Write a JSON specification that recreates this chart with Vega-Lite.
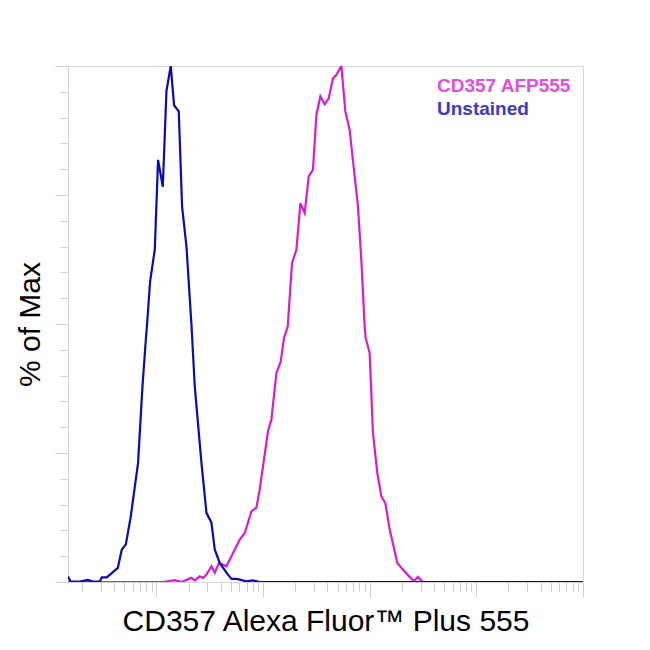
{
  "$schema": "https://vega.github.io/schema/vega-lite/v6.json",
  "description": "CD357 Alexa Fluor Plus 555 histogram overlay",
  "width": 515,
  "height": 516,
  "autosize": "none",
  "padding": {"left": 68, "top": 66, "right": 67, "bottom": 68},
  "background": "white",
  "config": {
    "view": {"stroke": "#d9d9d9", "strokeWidth": 1},
    "font": "Liberation Sans"
  },
  "data": {
    "values": [
      {"sample": "CD357 AFP555", "intensity": 14.8, "pct": 0},
      {"sample": "CD357 AFP555", "intensity": 115.3, "pct": 0},
      {"sample": "CD357 AFP555", "intensity": 148.4, "pct": 0.35},
      {"sample": "CD357 AFP555", "intensity": 171.5, "pct": 0},
      {"sample": "CD357 AFP555", "intensity": 212.8, "pct": 0.8},
      {"sample": "CD357 AFP555", "intensity": 228.6, "pct": 0.3},
      {"sample": "CD357 AFP555", "intensity": 254.6, "pct": 1.1},
      {"sample": "CD357 AFP555", "intensity": 273.4, "pct": 0.8},
      {"sample": "CD357 AFP555", "intensity": 294.2, "pct": 1.45},
      {"sample": "CD357 AFP555", "intensity": 327.7, "pct": 3.06},
      {"sample": "CD357 AFP555", "intensity": 351.9, "pct": 1.8},
      {"sample": "CD357 AFP555", "intensity": 386.2, "pct": 3.7},
      {"sample": "CD357 AFP555", "intensity": 452.9, "pct": 3.06},
      {"sample": "CD357 AFP555", "intensity": 504.7, "pct": 5.0},
      {"sample": "CD357 AFP555", "intensity": 603.6, "pct": 8.2},
      {"sample": "CD357 AFP555", "intensity": 672.5, "pct": 9.5},
      {"sample": "CD357 AFP555", "intensity": 777, "pct": 13.7},
      {"sample": "CD357 AFP555", "intensity": 865.5, "pct": 14.4},
      {"sample": "CD357 AFP555", "intensity": 929, "pct": 17.9},
      {"sample": "CD357 AFP555", "intensity": 998, "pct": 22.4},
      {"sample": "CD357 AFP555", "intensity": 1111, "pct": 29.2},
      {"sample": "CD357 AFP555", "intensity": 1196, "pct": 31.5},
      {"sample": "CD357 AFP555", "intensity": 1332, "pct": 40.5},
      {"sample": "CD357 AFP555", "intensity": 1462, "pct": 42.7},
      {"sample": "CD357 AFP555", "intensity": 1570, "pct": 47.3},
      {"sample": "CD357 AFP555", "intensity": 1701, "pct": 49.5},
      {"sample": "CD357 AFP555", "intensity": 1866, "pct": 61.8},
      {"sample": "CD357 AFP555", "intensity": 2052, "pct": 64.4},
      {"sample": "CD357 AFP555", "intensity": 2237, "pct": 73.4},
      {"sample": "CD357 AFP555", "intensity": 2454, "pct": 71.5},
      {"sample": "CD357 AFP555", "intensity": 2676, "pct": 78.6},
      {"sample": "CD357 AFP555", "intensity": 2935, "pct": 79.9},
      {"sample": "CD357 AFP555", "intensity": 3159, "pct": 90.5},
      {"sample": "CD357 AFP555", "intensity": 3444, "pct": 94.1},
      {"sample": "CD357 AFP555", "intensity": 3778, "pct": 92.6},
      {"sample": "CD357 AFP555", "intensity": 4120, "pct": 93.7},
      {"sample": "CD357 AFP555", "intensity": 4520, "pct": 97.6},
      {"sample": "CD357 AFP555", "intensity": 4864, "pct": 98.3},
      {"sample": "CD357 AFP555", "intensity": 5418, "pct": 100},
      {"sample": "CD357 AFP555", "intensity": 5905, "pct": 91.2},
      {"sample": "CD357 AFP555", "intensity": 6479, "pct": 87.6},
      {"sample": "CD357 AFP555", "intensity": 7111, "pct": 79.9},
      {"sample": "CD357 AFP555", "intensity": 7753, "pct": 72.8},
      {"sample": "CD357 AFP555", "intensity": 8341, "pct": 62.4},
      {"sample": "CD357 AFP555", "intensity": 8960, "pct": 49.5},
      {"sample": "CD357 AFP555", "intensity": 9155, "pct": 47.3},
      {"sample": "CD357 AFP555", "intensity": 9977, "pct": 44.4},
      {"sample": "CD357 AFP555", "intensity": 10715, "pct": 28.9},
      {"sample": "CD357 AFP555", "intensity": 11783, "pct": 21.1},
      {"sample": "CD357 AFP555", "intensity": 12846, "pct": 16.6},
      {"sample": "CD357 AFP555", "intensity": 14004, "pct": 15.3},
      {"sample": "CD357 AFP555", "intensity": 15369, "pct": 10.2},
      {"sample": "CD357 AFP555", "intensity": 18143, "pct": 3.7},
      {"sample": "CD357 AFP555", "intensity": 19783, "pct": 2.75},
      {"sample": "CD357 AFP555", "intensity": 22513, "pct": 1.45},
      {"sample": "CD357 AFP555", "intensity": 25968, "pct": 0.15},
      {"sample": "CD357 AFP555", "intensity": 28291, "pct": 1.0},
      {"sample": "CD357 AFP555", "intensity": 31514, "pct": 0},
      {"sample": "CD357 AFP555", "intensity": 1000000, "pct": 0},
      {"sample": "Unstained", "intensity": 14.8, "pct": 1.06},
      {"sample": "Unstained", "intensity": 15.7, "pct": 0.1},
      {"sample": "Unstained", "intensity": 19.1, "pct": 0.1},
      {"sample": "Unstained", "intensity": 22.7, "pct": 0.4},
      {"sample": "Unstained", "intensity": 25.3, "pct": 0.1},
      {"sample": "Unstained", "intensity": 29.4, "pct": 0.1},
      {"sample": "Unstained", "intensity": 30.7, "pct": 0.9},
      {"sample": "Unstained", "intensity": 34.2, "pct": 0.9},
      {"sample": "Unstained", "intensity": 43.4, "pct": 2.75},
      {"sample": "Unstained", "intensity": 47.3, "pct": 6.3},
      {"sample": "Unstained", "intensity": 51.6, "pct": 7.3},
      {"sample": "Unstained", "intensity": 57.4, "pct": 12.7},
      {"sample": "Unstained", "intensity": 67.2, "pct": 23.1},
      {"sample": "Unstained", "intensity": 73.9, "pct": 37.9},
      {"sample": "Unstained", "intensity": 79.4, "pct": 46.9},
      {"sample": "Unstained", "intensity": 81.6, "pct": 49.9},
      {"sample": "Unstained", "intensity": 87.1, "pct": 58.2},
      {"sample": "Unstained", "intensity": 96.4, "pct": 64.4},
      {"sample": "Unstained", "intensity": 103.5, "pct": 81.8},
      {"sample": "Unstained", "intensity": 114.6, "pct": 76.6},
      {"sample": "Unstained", "intensity": 124.1, "pct": 95.2},
      {"sample": "Unstained", "intensity": 136.1, "pct": 100},
      {"sample": "Unstained", "intensity": 146.2, "pct": 92.4},
      {"sample": "Unstained", "intensity": 161.8, "pct": 91.2},
      {"sample": "Unstained", "intensity": 173.8, "pct": 72.8},
      {"sample": "Unstained", "intensity": 191.1, "pct": 65.0},
      {"sample": "Unstained", "intensity": 212.8, "pct": 49.9},
      {"sample": "Unstained", "intensity": 228.6, "pct": 37.9},
      {"sample": "Unstained", "intensity": 264.1, "pct": 23.1},
      {"sample": "Unstained", "intensity": 294.2, "pct": 13.4},
      {"sample": "Unstained", "intensity": 327.7, "pct": 11.5},
      {"sample": "Unstained", "intensity": 351.9, "pct": 6.3},
      {"sample": "Unstained", "intensity": 392, "pct": 3.7},
      {"sample": "Unstained", "intensity": 452.9, "pct": 1.8},
      {"sample": "Unstained", "intensity": 504.7, "pct": 0.6},
      {"sample": "Unstained", "intensity": 562.1, "pct": 0.6},
      {"sample": "Unstained", "intensity": 616.6, "pct": 0.4},
      {"sample": "Unstained", "intensity": 697.5, "pct": 0.15},
      {"sample": "Unstained", "intensity": 804, "pct": 0.3},
      {"sample": "Unstained", "intensity": 929, "pct": 0},
      {"sample": "Unstained", "intensity": 1000000, "pct": 0}
    ]
  },
  "mark": {"type": "line", "strokeWidth": 2.2, "clip": true},
  "encoding": {
    "x": {
      "field": "intensity",
      "type": "quantitative",
      "scale": {"type": "log", "domain": [14.8, 1000000], "nice": false},
      "axis": {
        "title": "CD357 Alexa Fluor™ Plus 555",
        "titleFont": "Liberation Sans",
        "titleFontSize": 30,
        "titleFontWeight": "normal",
        "titleColor": "#000000",
        "titlePadding": 9,
        "labels": false,
        "grid": false,
        "values": [20, 30, 40, 50, 60, 70, 80, 90, 100, 200, 300, 400, 500, 600, 700, 800, 900, 1000, 2000, 3000, 4000, 5000, 6000, 7000, 8000, 9000, 10000, 20000, 30000, 40000, 50000, 60000, 70000, 80000, 90000, 100000, 200000, 300000, 400000, 500000, 600000, 700000, 800000, 900000, 1000000],
        "tickSize": {"condition": {"test": "abs(log(datum.value) / LN10 - round(log(datum.value) / LN10)) < 0.001", "value": 15}, "value": 9},
        "tickColor": "#cfcfcf",
        "domainColor": "#d4d4d4"
      }
    },
    "y": {
      "field": "pct",
      "type": "quantitative",
      "scale": {"domain": [0, 100], "nice": false},
      "axis": {
        "title": "% of Max",
        "titleFont": "Liberation Sans",
        "titleFontSize": 30,
        "titleFontWeight": "normal",
        "titleColor": "#000000",
        "titlePadding": 9,
        "labels": false,
        "grid": false,
        "values": [0, 5, 10, 15, 20, 25, 30, 35, 40, 45, 50, 55, 60, 65, 70, 75, 80, 85, 90, 95, 100],
        "tickSize": {"condition": {"test": "datum.value % 25 == 0", "value": 13}, "value": 8},
        "tickColor": "#cfcfcf",
        "domainColor": "#d4d4d4"
      }
    },
    "color": {
      "field": "sample",
      "type": "nominal",
      "scale": {"domain": ["CD357 AFP555", "Unstained"], "range": ["#d91ad9", "#0a0ab8"]},
      "legend": {
        "title": null,
        "orient": "none",
        "legendX": 350,
        "legendY": 10,
        "symbolSize": 0,
        "symbolOpacity": 0,
        "symbolStrokeWidth": 0,
        "labelOffset": 0,
        "labelFont": "Liberation Sans",
        "labelFontSize": 19,
        "labelFontWeight": "bold",
        "labelLimit": 300,
        "rowPadding": 3,
        "encode": {
          "labels": {
            "update": {
              "fill": {"signal": "datum.label == 'Unstained' ? '#3a3ad0' : '#e24ce2'"}
            }
          }
        }
      }
    }
  }
}
